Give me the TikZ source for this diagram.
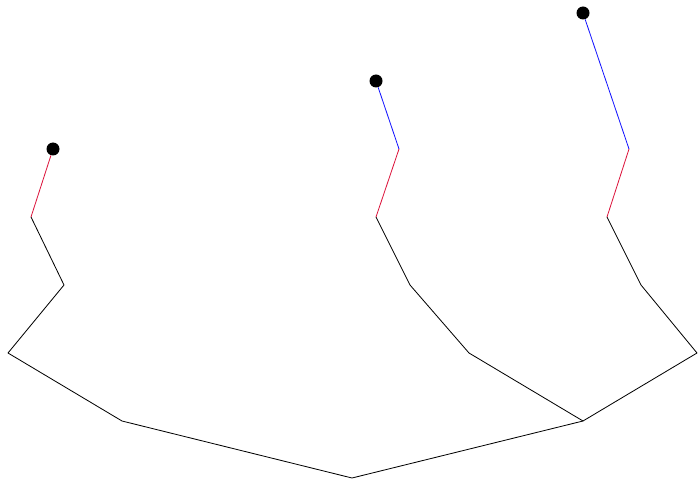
\documentclass[tikz,border=0pt]{standalone}
\usepackage{xcolor}
\usetikzlibrary{positioning}

\definecolor{branchred}{RGB}{220,20,60}
\definecolor{branchblue}{RGB}{20,20,255}

\tikzset{
    leaf/.style={circle, fill=black, inner sep=0pt, minimum size=0.39cm},
    stem/.style={black, line width=0.7pt},
}

\begin{document}
\begin{tikzpicture}[x=0.03cm, y=-0.03cm, line join=round]

\useasboundingbox (0,0) rectangle (698,481);

% Vertices of the tree (pixel grid, y downwards)
\coordinate (root) at (352,478);
\coordinate (l1) at (122,421);
\coordinate (l2) at (8,353);
\coordinate (l3) at (64,285);
\coordinate (l4) at (31,217);
\coordinate (fork) at (583,421);
\coordinate (m1) at (469,353);
\coordinate (m2) at (410,285);
\coordinate (m3) at (376,217);
\coordinate (m4) at (399,149);
\coordinate (r1) at (697,353);
\coordinate (r2) at (641,285);
\coordinate (r3) at (607,217);
\coordinate (r4) at (629,149);

% The leaves
\node[leaf] (lleaf) at (53,149) {};
\node[leaf] (mleaf) at (376,81) {};
\node[leaf] (rleaf) at (583,13) {};

% Black trunk and branches
\draw[stem] (l4) -- (l3) -- (l2) -- (l1) -- (root) -- (fork);
\draw[stem] (fork) -- (m1) -- (m2) -- (m3);
\draw[stem] (fork) -- (r1) -- (r2) -- (r3);

% Coloured tips
\draw[stem, branchred] (l4) -- (lleaf);
\draw[stem, branchred] (m3) -- (m4);
\draw[stem, branchblue] (m4) -- (mleaf);
\draw[stem, branchred] (r3) -- (r4);
\draw[stem, branchblue] (r4) -- (rleaf);

\end{tikzpicture}
\end{document}
